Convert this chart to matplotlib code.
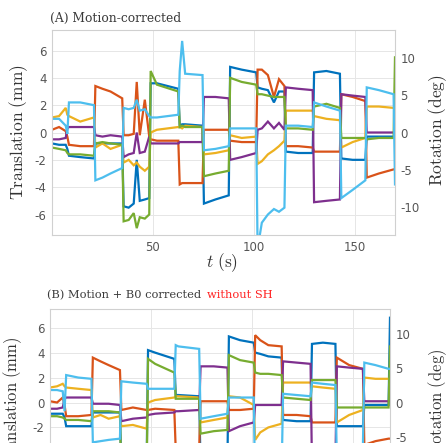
import matplotlib
matplotlib.use("Agg")
import matplotlib.pyplot as plt

plt.rcParams['mathtext.fontset'] = 'cm'
plt.rcParams['axes.unicode_minus'] = False

# ---------------- Panel A data (time in s, values in mm-equivalent on left axis) -------------
tA = [0, 3.5, 6.8, 7.6, 8.4, 14, 20.8, 21.5, 25, 29, 34.8, 35.5, 38, 40.5, 42, 43.5, 46, 48.2,
      48.9, 52, 62.6, 63.3, 64.5, 66, 74.6, 75.3, 81, 87.6, 88.3, 94, 101.2, 101.9, 104, 107,
      110, 112.5, 115.2, 115.9, 122, 129.2, 129.9, 136, 142.7, 143.4, 149, 155.3, 156, 162,
      169.3, 170]
a_blue = [-0.8, -0.9, -0.9, -1.2, -1.7, -1.8, -1.9, -0.8, -0.8, -0.8, -0.8, -5.4, -5.5, -5.2,
          -2.0, -5.0, -4.9, -4.8, 3.6, 3.6, 3.2, 0.5, 0.6, 0.6, 0.5, -5.2, -4.9, -4.6, 4.8, 4.6,
          4.4, 3.3, 3.2, 3.1, 2.2, 3.0, 3.0, -1.4, -1.5, -1.5, 4.4, 4.5, 4.3, -1.9, -2.0, -2.0,
          -0.3, -0.3, -0.3, -0.3]
a_orange = [0.2, 0.4, 0.1, -0.3, -0.9, -1.0, -1.0, 3.4, 3.2, 3.0, 2.5, -0.2, -0.2, -0.1, 3.7,
            -0.2, 2.4, -0.3, -0.5, -0.6, -0.6, -3.8, -3.7, -3.7, -3.7, 0.2, 0.2, 0.2, -0.6, -0.7,
            -0.7, 4.6, 4.6, 4.2, 2.6, 3.9, 3.4, -1.0, -1.0, -1.1, -1.4, -1.4, -1.4, 2.8, 2.6, 2.3,
            -3.3, -3.0, -2.7, -2.7]
a_yellow = [1.1, 1.2, 1.8, 1.3, 1.2, 0.8, 1.1, -1.1, -0.8, -1.2, -0.9, -2.2, -2.0, -2.4, -2.2,
            -2.5, -2.8, -2.5, 0.0, 0.2, 0.4, 0.4, 0.3, 0.5, 0.4, -1.6, -1.5, -1.3, -0.2, -0.4,
            -0.3, -2.3, -2.1, -1.6, -1.3, -1.0, -0.6, 1.6, 1.6, 1.6, 1.2, 1.0, 0.9, -1.1, -0.7,
            -0.4, 1.9, 1.9, 1.8, 1.8]
a_purple = [-0.5, -0.5, -0.4, 0.3, 0.4, 0.4, 0.4, -0.2, -0.3, -0.2, -0.3, -1.8, -1.6, -1.5, 0.0,
            -1.5, -1.4, -0.3, -0.8, -0.8, -0.8, -0.7, -0.7, -0.7, -0.7, 2.6, 2.6, 2.5, -2.0, -1.8,
            -1.5, 0.2, 0.3, 0.8, 0.3, 0.7, 0.2, 3.3, 3.2, 3.1, -5.1, -5.0, -4.9, 2.8, 2.7, 2.6,
            0.0, 0.0, 0.0, 0.0]
a_green = [-1.1, -1.2, -1.3, -1.5, -1.6, -1.6, -1.7, -0.8, -0.7, -0.8, -0.9, -6.5, -6.4, -5.9,
           -7.0, -6.2, -6.3, -6.0, 4.5, 3.5, 3.0, 0.4, 0.5, 0.4, 0.4, -3.2, -3.0, -2.8, 4.0, 3.7,
           3.5, 2.8, 2.8, 2.7, 2.6, 2.6, 2.6, 0.3, 0.3, 0.2, 1.9, 2.1, 1.8, -0.4, -0.4, -0.4,
           -0.5, -0.4, -0.4, 5.5]
a_cyan = [1.0, 1.0, 0.5, -0.1, 2.2, 2.2, 2.0, -3.5, -3.3, -3.0, -2.6, 1.8, 1.7, 1.8, 2.4, 1.6,
          1.7, 1.2, 1.1, 1.1, 1.3, 4.5, 6.7, 4.3, 4.2, -1.3, -1.2, -1.0, 0.3, 0.3, 0.3, -8.5,
          -6.6, -6.0, -5.6, -5.8, -5.5, 0.5, 0.5, 0.4, 2.2, 1.9, 1.6, -4.8, -4.2, -3.5, 3.3, 3.1,
          2.8, -3.8]

# ---------------- Panel B data -------------
tB = [0, 3.5, 6.3, 7.2, 8.0, 14, 20.5, 21.2, 25, 29, 34.6, 35.3, 41, 47.8, 48.5, 52, 61.5, 62.2,
      63.5, 73.8, 74.5, 81, 87.8, 88.5, 94, 100.8, 101.5, 104, 108, 114.6, 115.3, 122, 128.9,
      129.6, 135, 141.2, 141.9, 148, 154.8, 155.5, 161, 167.5, 168.2]
b_blue = [-0.9, -0.9, -0.9, -1.2, -1.9, -1.9, -1.9, -0.8, -0.8, -0.8, -0.8, -5.5, -5.2, -5.0,
          4.2, 4.0, 3.5, 0.6, 0.6, 0.5, -5.2, -4.9, -4.6, 5.3, 5.0, 4.8, 4.0, 3.9, 3.7, 3.6, -1.4,
          -1.5, -1.5, 4.7, 4.8, 4.7, -1.9, -1.9, -1.9, -0.2, -0.2, -0.2, 6.8]
b_orange = [0.1, 0.0, 0.4, -0.2, -1.1, -1.1, -1.0, 3.6, 3.3, 3.0, 2.6, -0.6, -0.4, -0.6, -0.6,
            -0.5, -0.6, -3.8, -3.8, -3.7, 0.1, 0.1, 0.1, -0.6, -0.6, -0.5, 5.4, 5.0, 4.6, 4.5,
            -1.0, -1.0, -1.1, -1.6, -1.6, -1.6, 3.6, 3.0, 2.7, -3.4, -3.1, -2.9, -2.9]
b_yellow = [1.2, 1.3, 1.5, 1.3, 1.2, 1.1, 1.0, -1.2, -1.0, -1.3, -1.1, -1.9, -1.8, -2.1, 0.0,
            0.2, 0.4, 0.5, 0.5, 0.4, -1.6, -1.4, -1.2, 0.5, 0.4, -0.2, -3.0, -2.4, -2.0, -1.7,
            1.6, 1.6, 1.6, 1.3, 1.2, 1.1, -1.6, -1.0, -0.6, 2.0, 1.9, 1.9, 1.9]
b_purple = [-0.5, -0.5, -0.4, 0.3, 0.4, 0.4, 0.4, -0.1, -0.1, -0.1, -0.2, -1.5, -1.3, -1.2,
            -1.0, -0.9, -0.8, -0.7, -0.7, -0.6, 2.9, 2.9, 2.8, -2.3, -1.9, -1.6, -0.2, -0.2,
            -0.2, -0.2, 3.3, 3.2, 3.1, -5.1, -5.0, -4.9, 2.9, 2.8, 2.7, 0.1, 0.1, 0.1, 0.1]
b_green = [-1.1, -1.1, -1.2, -1.3, -1.4, -1.4, -1.5, -0.7, -0.7, -0.7, -0.8, -6.4, -6.2, -6.2,
           3.5, 3.1, 2.4, 0.3, 0.3, 0.3, -2.5, -2.3, -2.2, 3.8, 3.4, 3.2, 2.4, 2.3, 2.3, 2.2,
           0.4, 0.3, 0.2, 1.8, 1.8, 1.8, -0.4, -0.4, -0.4, -0.4, -0.4, -0.4, 4.5]
b_cyan = [1.0, 1.0, 0.9, -0.7, 2.2, 2.0, 1.9, -3.2, -3.1, -3.0, -2.9, 1.7, 1.6, 1.5, 1.1, 1.1,
          1.1, 4.6, 4.5, 4.3, -1.3, -1.1, -0.9, 0.4, 0.4, 0.4, -7.0, -6.2, -5.9, -5.6, 0.7, 0.6,
          0.5, 1.6, 1.5, 1.4, -4.6, -4.0, -3.5, 3.2, 3.0, 2.7, 2.7]

colors = ['#0072BD', '#D95319', '#EDB120', '#7E2F8E', '#77AC30', '#4DBEEE']
left_ticks = [-6, -4, -2, 0, 2, 4, 6]
right_ticks = [-10, -5, 0, 5, 10]
x_ticks = [50, 100, 150]

W, H = 446, 443
fig = plt.figure(figsize=(W / 100, H / 100), dpi=100)


def make_panel(rect, t, series, xmax, show_x):
    ax = fig.add_axes(rect)
    for y, c in zip(series, colors):
        ax.plot(t, y, color=c, lw=1.6, solid_joinstyle='miter')
    ax.set_xlim(0, xmax)
    ax.set_ylim(-7.5, 7.5)
    ax.set_xticks(x_ticks)
    ax.set_yticks(left_ticks)
    ax.grid(True, color='#e6e6e6', lw=0.7)
    ax.set_axisbelow(True)
    for s in ax.spines.values():
        s.set_color('#d0d0d0')
        s.set_linewidth(0.8)
    ax.tick_params(axis='both', length=0, labelsize=8.5, colors='#555555', pad=4,
                   labelbottom=show_x)
    ax2 = ax.twinx()
    ax2.set_ylim(-13.7, 13.7)
    ax2.set_yticks(right_ticks)
    ax2.tick_params(axis='y', length=0, labelsize=8.5, colors='#555555', pad=4)
    for s in ax2.spines.values():
        s.set_visible(False)
    return ax


axA = make_panel([52 / W, 1 - 235 / H, 343 / W, 205 / H], tA,
                 [a_blue, a_orange, a_yellow, a_purple, a_green, a_cyan], 170, True)
axB = make_panel([50 / W, 1 - 496 / H, 340 / W, 187 / H], tB,
                 [b_blue, b_orange, b_yellow, b_purple, b_green, b_cyan], 168.2, False)

lab_col = '#333333'
fig.text(19 / W, 1 - 132 / H, r'$\mathrm{Translation\ (mm)}$', rotation=90,
         ha='center', va='center', fontsize=12.5, color=lab_col)
fig.text(438 / W, 1 - 130 / H, r'$\mathrm{Rotation\ (deg)}$', rotation=90,
         ha='center', va='center', fontsize=12.5, color=lab_col)
fig.text(222 / W, 1 - 263 / H, r'$t\ \mathrm{(s)}$', ha='center', va='center',
         fontsize=12.5, color=lab_col)
fig.text(13 / W, 1 - 402 / H, r'$\mathrm{Translation\ (mm)}$', rotation=90,
         ha='center', va='center', fontsize=12, color=lab_col)
fig.text(438 / W, 1 - 402 / H, r'$\mathrm{Rotation\ (deg)}$', rotation=90,
         ha='center', va='center', fontsize=12, color=lab_col)

fig.text(50 / W, 1 - 18 / H, '(A) Motion-corrected', ha='left', va='center',
         fontsize=8.8, family='DejaVu Serif', color='#3a3a3a')
tb = fig.text(47 / W, 1 - 295 / H, '(B) Motion + B0 corrected', ha='left', va='center',
              fontsize=8.2, family='DejaVu Serif', color='#3a3a3a')
fig.canvas.draw()
x_end = tb.get_window_extent(renderer=fig.canvas.get_renderer()).x1
fig.text((x_end + 6) / W, 1 - 295 / H, 'without SH', ha='left', va='center',
         fontsize=8.2, family='DejaVu Serif', color='#ff2020')

fig.savefig('out.png', dpi=100)
